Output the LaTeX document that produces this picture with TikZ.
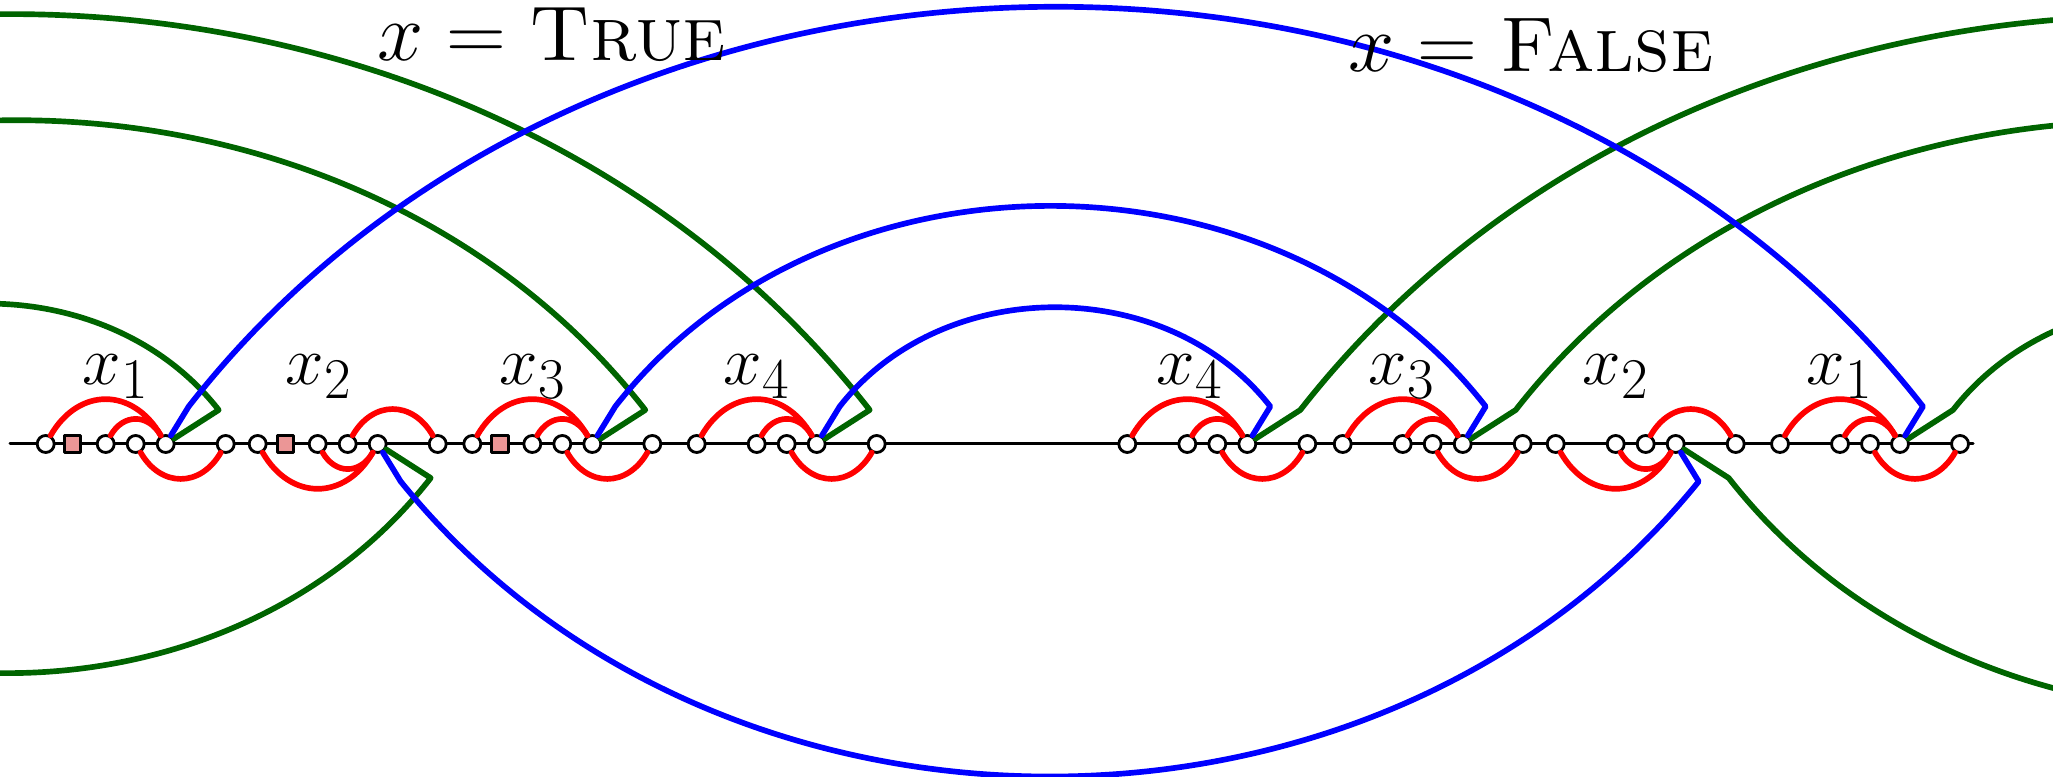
\documentclass[tikz,border=0pt]{standalone}
\usetikzlibrary{calc}
\definecolor{wiregreen}{RGB}{0,100,0}
\definecolor{blockpink}{RGB}{235,150,150}
\tikzset{track/.style={
  x=0.3pt,y=0.3pt,
  line join=round,line cap=round
},
  vtx/.style={circle,draw,fill=white,line width=0.85pt,inner sep=0pt,minimum size=5.1pt},
  blk/.style={rectangle,draw,fill=blockpink,line width=0.85pt,inner sep=0pt,minimum size=4.9pt},
  lit/.style={red,line width=1.7pt,looseness=1.3},
  tru/.style={blue,line width=1.7pt},
  cls/.style={wiregreen,line width=1.7pt},
  varlbl/.style={font=\fontsize{22.8}{27}\selectfont,anchor=base},
  sidelbl/.style={font=\fontsize{23.3}{28}\selectfont,anchor=base,inner sep=0pt}
}

\begin{document}
\begin{tikzpicture}[track]
  \useasboundingbox (0,-333) rectangle (2053,444);
  \clip (0,-333) rectangle (2053,444);

  \coordinate (start) at (10,0);
  \coordinate (stop) at (1973,0);
  \draw[line width=0.9pt] (start) -- (stop);

  % one gadget per literal: name/index/first vertex/up or down/label
  \foreach \g/\i/\s/\d/\lx in {L1/1/45.7/1/116, L2/2/257.7/-1/319, L3/3/472.3/1/533,
      L4/4/696.7/1/757, R4/4/1127.3/1/1190, R3/3/1342.7/1/1402,
      R2/2/1555.7/-1/1616, R1/1/1780/1/1840}{
    \pgfmathsetmacro\up{60*\d}
    \pgfmathsetmacro\upin{180-60*\d}
    \pgfmathsetmacro\dn{-60*\d}
    \pgfmathsetmacro\dnin{-180+60*\d}
    \node[vtx] (\g-a) at (\s,0) {};
    \node[vtx] (\g-b) at (\s+60,0) {};
    \node[vtx] (\g-c) at (\s+90,0) {};
    \node[vtx] (\g-m) at (\s+120,0) {};
    \node[vtx] (\g-d) at (\s+180,0) {};
    \coordinate (\g-kb) at (\s+143,\d*37.5);
    \coordinate (\g-kg) at (\s+173,\d*34);
    \draw[lit] (\g-a) to[out=\up,in=\upin] (\g-m);
    \draw[lit] (\g-b) to[out=\up,in=\upin] (\g-m);
    \draw[lit] (\g-c) to[out=\dn,in=\dnin] (\g-d);
    \node[varlbl] (\g-lbl) at (\lx,59) {$x_{\i}$};
  }
  \node[blk] (L1-s) at (72.7,0) {};
  \node[blk] (L2-s) at (285.7,0) {};
  \node[blk] (L3-s) at (500,0) {};

  % clause wires leaving the picture
  \coordinate (g1l) at (-243,34);
  \coordinate (g2l) at (-416,-34);
  \coordinate (g3l) at (-612,34);
  \coordinate (g4l) at (-848,34);
  \coordinate (g1r) at (2415,34);
  \coordinate (g2r) at (2745,-34);
  \coordinate (g3r) at (2769,34);
  \coordinate (g4r) at (3011,34);
  \draw[cls] (L1-m) -- (L1-kg) to[out=128,in=52] (g1l);
  \draw[cls] (L2-m) -- (L2-kg) to[out=-128,in=-52] (g2l);
  \draw[cls] (L3-m) -- (L3-kg) to[out=128,in=52] (g3l);
  \draw[cls] (L4-m) -- (L4-kg) to[out=128,in=52] (g4l);
  \draw[cls] (R1-m) -- (R1-kg) to[out=52,in=128] (g1r);
  \draw[cls] (R2-m) -- (R2-kg) to[out=-52,in=-128] (g2r);
  \draw[cls] (R3-m) -- (R3-kg) to[out=52,in=128] (g3r);
  \draw[cls] (R4-m) -- (R4-kg) to[out=52,in=128] (g4r);

  % same variable, both sides
  \draw[tru] (L1-m) -- (L1-kb) to[out=52,in=128] (R1-kb) -- (R1-m);
  \draw[tru] (L2-m) -- (L2-kb) to[out=-51,in=-129] (R2-kb) -- (R2-m);
  \draw[tru] (L3-m) -- (L3-kb) to[out=52,in=128] (R3-kb) -- (R3-m);
  \draw[tru] (L4-m) -- (L4-kb) to[out=52,in=128] (R4-kb) -- (R4-m);

  \node[sidelbl] (truelbl) at (551.7,383) {$x = \textsc{True}$};
  \node[sidelbl] (falselbl) at (1531,372.3) {$x = \textsc{False}$};
\end{tikzpicture}
\end{document}
